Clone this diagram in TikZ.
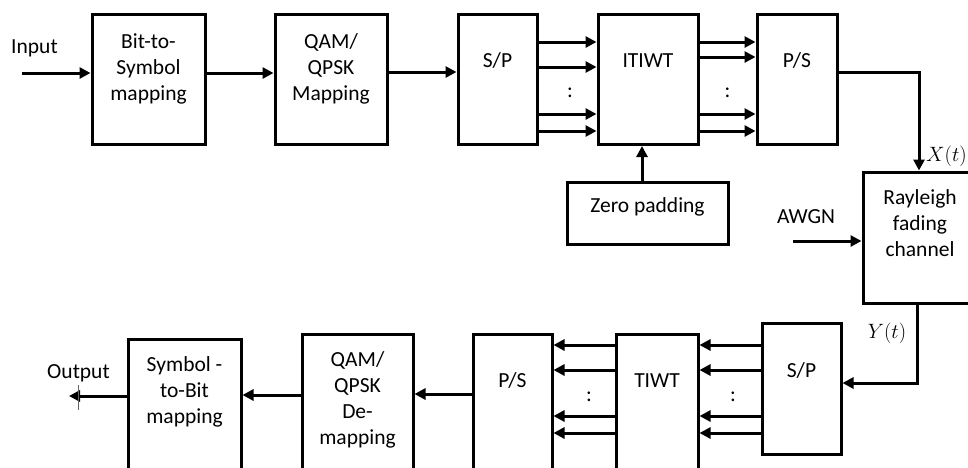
\documentclass[tikz,border=0pt]{standalone}
\usepackage{fontspec}
\setmainfont{Carlito}
\usetikzlibrary{arrows.meta}
\begin{document}
\begin{tikzpicture}[x=1pt,y=-1pt,
  box/.style={draw, line width=3pt, inner sep=0pt, minimum width=#1},
  txt/.style={font=\fontsize{21.5}{26}\selectfont, align=center, inner sep=0pt, anchor=base},
  dots/.style={font=\fontsize{21.5}{26}\selectfont, inner sep=0pt, anchor=center},
  arr/.style={line width=3pt, -{Triangle[length=11pt,width=11pt]}},
  mlabel/.style={font=\fontsize{21}{24}\selectfont, inner sep=0pt}]
\useasboundingbox (0,0) rectangle (968,467);
\clip (0,0) rectangle (968,467);

% transmitter blocks
\node[box=113, minimum height=130] (b2s) at (148.5,79) {};
\node[box=112, minimum height=130] (qam) at (331,79) {};
\node[box=79,  minimum height=130] (spt) at (497.5,79.5) {};
\node[box=100, minimum height=130] (it)  at (648,79.5) {};
\node[box=80,  minimum height=130] (pst) at (797,79.5) {};
\node[box=161, minimum height=62]  (zp)  at (647.5,213) {};

% channel
\node[box=117, minimum height=131] (rf) at (921.5,237.5) {};

% receiver blocks
\node[box=79,  minimum height=131] (spb) at (801.5,388.5) {};
\node[box=82,  minimum height=186] (ti)  at (657,427) {};
\node[box=79,  minimum height=186] (psb) at (512.5,427) {};
\node[box=111, minimum height=186] (qd)  at (357.5,427) {};
\node[box=113, minimum height=181] (s2b) at (184.5,429.5) {};

% block texts (multi-line texts sit on the baseline of their last line)
\node[txt] (inputT) at (34.5,53) {Input};
\node[txt] (b2sT) at (148.5,100) {Bit-to-\\Symbol\\mapping};
\node[txt] (qamT) at (331,100) {QAM/\\QPSK\\Mapping};
\node[txt] (sptT) at (497.5,67) {S/P};
\node[txt] (itT)  at (648,67) {ITIWT};
\node[txt] (pstT) at (797,67) {P/S};
\node[txt] (zpT)  at (647.5,212) {Zero padding};
\node[txt] (rfT)  at (920,256) {Rayleigh\\fading\\channel};
\node[txt] (awgnT) at (806,223) {AWGN};
\node[mlabel, anchor=west] (xt) at (926,156) {$X(t)$};
\node[mlabel] (yt) at (887,333) {$Y(t)$};
\node[txt] (spbT) at (801.5,377) {S/P};
\node[txt] (tiT)  at (657,387) {TIWT};
\node[txt] (psbT) at (512.5,387) {P/S};
\node[txt] (qdT)  at (357.5,444) {QAM/\\QPSK\\De-\\mapping};
\node[txt] (s2bT) at (184.5,423) {Symbol -\\to-Bit\\mapping};
\node[txt] (outT) at (78.5,378) {Output};

\node[dots] (d1) at (570,93) {:};
\node[dots] (d2) at (727.5,93) {:};
\node[dots] (d3) at (733,397) {:};
\node[dots] (d4) at (589,397) {:};

% transmitter connectors
\coordinate (inS) at (22,73);
\draw[arr] (inS) -- (b2s.west |- inS);
\draw[arr] (b2s.east |- 0,73) -- (qam.west |- 0,73);
\draw[arr] (qam.east |- 0,72) -- (spt.west |- 0,72);
\foreach \yy in {42,67,114,131}
  \draw[arr] (spt.east |- 0,\yy) -- (it.west |- 0,\yy);
\foreach \yy in {42,57,114,131}
  \draw[arr] (it.east |- 0,\yy) -- (pst.west |- 0,\yy);
\draw[arr] (zp.north -| 642,0) -- (it.south -| 642,0);
\draw[arr] (pst.east |- 0,72) -| (rf.north -| 919,0);

% noise and channel output
\coordinate (awgnS) at (793,241);
\draw[arr] (awgnS) -- (rf.west |- awgnS);
\draw[arr] (rf.south -| 917,0) |- (spb.east |- 0,383);

% receiver connectors
\foreach \yy in {345,370,416,433} {
  \draw[arr] (spb.west |- 0,\yy) -- (ti.east |- 0,\yy);
  \draw[arr] (ti.west |- 0,\yy) -- (psb.east |- 0,\yy);
}
\draw[arr] (psb.west |- 0,394) -- (qd.east |- 0,394);
\draw[arr] (qd.west |- 0,395) -- (s2b.east |- 0,395);
\coordinate (outE) at (69,396);
\draw[arr] (s2b.west |- outE) -- (outE);
\draw[line width=0.8pt, black!60] (78,385) -- (78,410);
\end{tikzpicture}
\end{document}
